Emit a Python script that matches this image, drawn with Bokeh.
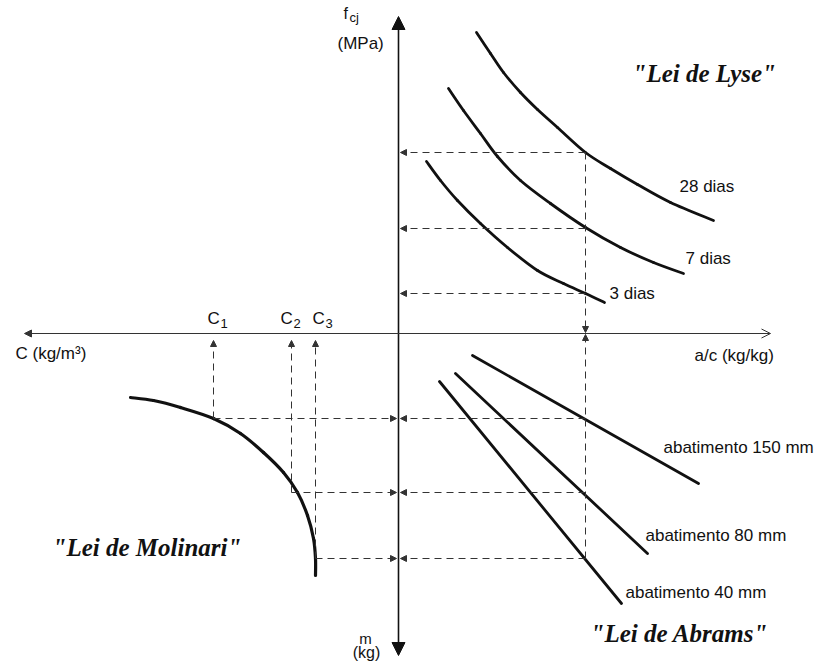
from bokeh.plotting import figure
from bokeh.models import Range1d, Arrow, NormalHead, OpenHead, ColumnDataSource
from bokeh.core.properties import value
from bokeh.embed import file_html
from bokeh.resources import INLINE

# ---------------- data (diagram units: a/c to the right, f_cj up, m down, C left) -------------
# Lei de Lyse : f_cj vs a/c
lyse_28_ac = [78, 92, 105, 122, 139, 159, 187, 212, 239, 272, 315]
lyse_28_fc = [301, 280, 261, 241, 224, 206, 181, 165, 149, 131, 113]
lyse_7_ac = [50, 65, 82, 99, 122, 152, 187, 222, 255, 285]
lyse_7_fc = [245, 223, 200, 177, 153, 130, 106, 86, 71, 60]
lyse_3_ac = [28, 42, 59, 82, 109, 139, 165, 187, 206]
lyse_3_fc = [172, 153, 133, 110, 86, 63, 50, 40, 31]

# Lei de Abrams : m vs a/c (m plotted downward)
abrams_150_ac = [74, 300]
abrams_150_m = [-22, -150]
abrams_80_ac = [57, 249]
abrams_80_m = [-40, -220]
abrams_40_ac = [41, 223]
abrams_40_m = [-48, -270]

# Lei de Molinari : C vs m (C plotted leftward)
molinari_C = [-268, -245, -218, -185, -158, -135, -115, -101, -91, -85, -83, -83]
molinari_m = [-64, -67, -74, -85, -100, -119, -139, -159, -182, -205, -225, -242]

# design reading
ac_design = 187
fc_design = [181, 105, 40]
m_design = [-85, -159, -225]
C_design = [-185, -107, -83]

day_labels = ["28 dias", "7 dias", "3 dias"]
slump_labels = ["abatimento 150 mm", "abatimento 80 mm", "abatimento 40 mm"]
law_labels = ['"Lei de Lyse"', '"Lei de Abrams"', '"Lei de Molinari"']
cement_labels = ["C", "C", "C"]
cement_subs = ["1", "2", "3"]

# ---------------- figure ----------------
p = figure(width=815, height=662, output_backend="svg", toolbar_location=None,
           x_range=Range1d(-398, 417), y_range=Range1d(-329, 333),
           x_axis_type=None, y_axis_type=None, min_border=0)
p.outline_line_color = None
p.background_fill_color = "white"
p.border_fill_color = "white"

INK = "#111111"
DASH = "#333333"
SANS = value("Liberation Sans")
SERIF = value("Liberation Serif")

# main axes
p.add_layout(Arrow(x_start=0, y_start=-322, x_end=0, y_end=317, line_width=1.6, line_color=INK,
                   start=NormalHead(size=13, line_color=INK, fill_color=INK),
                   end=NormalHead(size=13, line_color=INK, fill_color=INK)))
p.add_layout(Arrow(x_start=-374, y_start=0, x_end=372, y_end=0, line_width=1, line_color="#333333",
                   start=NormalHead(size=7, line_color="#333333", fill_color="#333333"),
                   end=OpenHead(size=9, line_width=1, line_color="#333333")))


def smooth_curve(xs, ys, width):
    """Draw the read points as a smooth curve (Catmull-Rom rendered with Bezier glyphs)."""
    n = len(xs)
    x0, y0, x1, y1, cx0, cy0, cx1, cy1 = ([] for _ in range(8))
    for i in range(n - 1):
        a = max(i - 1, 0)
        d = min(i + 2, n - 1)
        x0.append(xs[i]); y0.append(ys[i]); x1.append(xs[i + 1]); y1.append(ys[i + 1])
        cx0.append(xs[i] + (xs[i + 1] - xs[a]) / 6); cy0.append(ys[i] + (ys[i + 1] - ys[a]) / 6)
        cx1.append(xs[i + 1] - (xs[d] - xs[i]) / 6); cy1.append(ys[i + 1] - (ys[d] - ys[i]) / 6)
    src = ColumnDataSource(dict(x0=x0, y0=y0, x1=x1, y1=y1, cx0=cx0, cy0=cy0, cx1=cx1, cy1=cy1))
    p.bezier(x0="x0", y0="y0", x1="x1", y1="y1", cx0="cx0", cy0="cy0", cx1="cx1", cy1="cy1",
             source=src, line_width=width, line_color=INK, line_cap="round")


# curves
for xs, ys in [(lyse_28_ac, lyse_28_fc), (lyse_7_ac, lyse_7_fc), (lyse_3_ac, lyse_3_fc)]:
    smooth_curve(xs, ys, 2.8)
for xs, ys in [(abrams_150_ac, abrams_150_m), (abrams_80_ac, abrams_80_m), (abrams_40_ac, abrams_40_m)]:
    p.line(xs, ys, line_width=2.8, line_color=INK, line_cap="round")
smooth_curve(molinari_C, molinari_m, 3.2)


def dashed_arrows(xs, ys, xe, ye):
    src = ColumnDataSource(dict(xs=xs, ys=ys, xe=xe, ye=ye))
    p.add_layout(Arrow(source=src, x_start="xs", y_start="ys", x_end="xe", y_end="ye",
                       line_width=1, line_color=DASH, line_dash="7 5",
                       end=NormalHead(size=6, line_width=1, line_color=DASH, fill_color=DASH)))


n = len(fc_design)
# f_cj readings (to the left, onto the f_cj axis)
dashed_arrows([ac_design] * n, fc_design, [2] * n, fc_design)
# a/c line up to the axis from both quadrants
dashed_arrows([ac_design], [max(fc_design)], [ac_design], [1])
dashed_arrows([ac_design], [min(m_design)], [ac_design], [-1])
# m readings: from Abrams side and from Molinari side
dashed_arrows([ac_design] * n, m_design, [2] * n, m_design)
dashed_arrows(C_design, m_design, [-2] * n, m_design)
# C readings up to the C axis
dashed_arrows(C_design, m_design, C_design, [-7] * n)

# ---------------- texts ----------------
def txt(x, y, t, size, font=SANS, style="normal", align="left", xo=0, yo=0):
    p.text(x=x, y=y, text=t, text_font=font, text_font_size=size, text_font_style=style,
           text_color=INK, text_align=align, text_baseline="middle", x_offset=xo, y_offset=yo)

txt([281, 287, 211], [147, 75, 40], day_labels, "17px")
txt([265, 247, 227], [-114, -202, -259], slump_labels, "17px")
txt([234, 192, -346], [260, -300, -214], law_labels, "25px", font=SERIF, style="bold italic")

txt([-191, -118, -86], [15, 15, 15], cement_labels, "17px")
txt([-191, -118, -86], [15, 15, 15], cement_subs, "13px", xo=13, yo=5)

txt([296], [-22], ["a/c (kg/kg)"], "17px")
txt([-383], [-20], ["C (kg/m³)"], "17px")
txt([-55], [320], ["f"], "16px")
txt([-55], [320], ["cj"], "13px", xo=6, yo=4)
txt([-61], [290], ["(MPa)"], "17px")
txt([-33], [-305], ["m"], "15px", align="center")
txt([-32], [-319], ["(kg)"], "16px", align="center")

open("out.html", "w").write(file_html(p, INLINE))
